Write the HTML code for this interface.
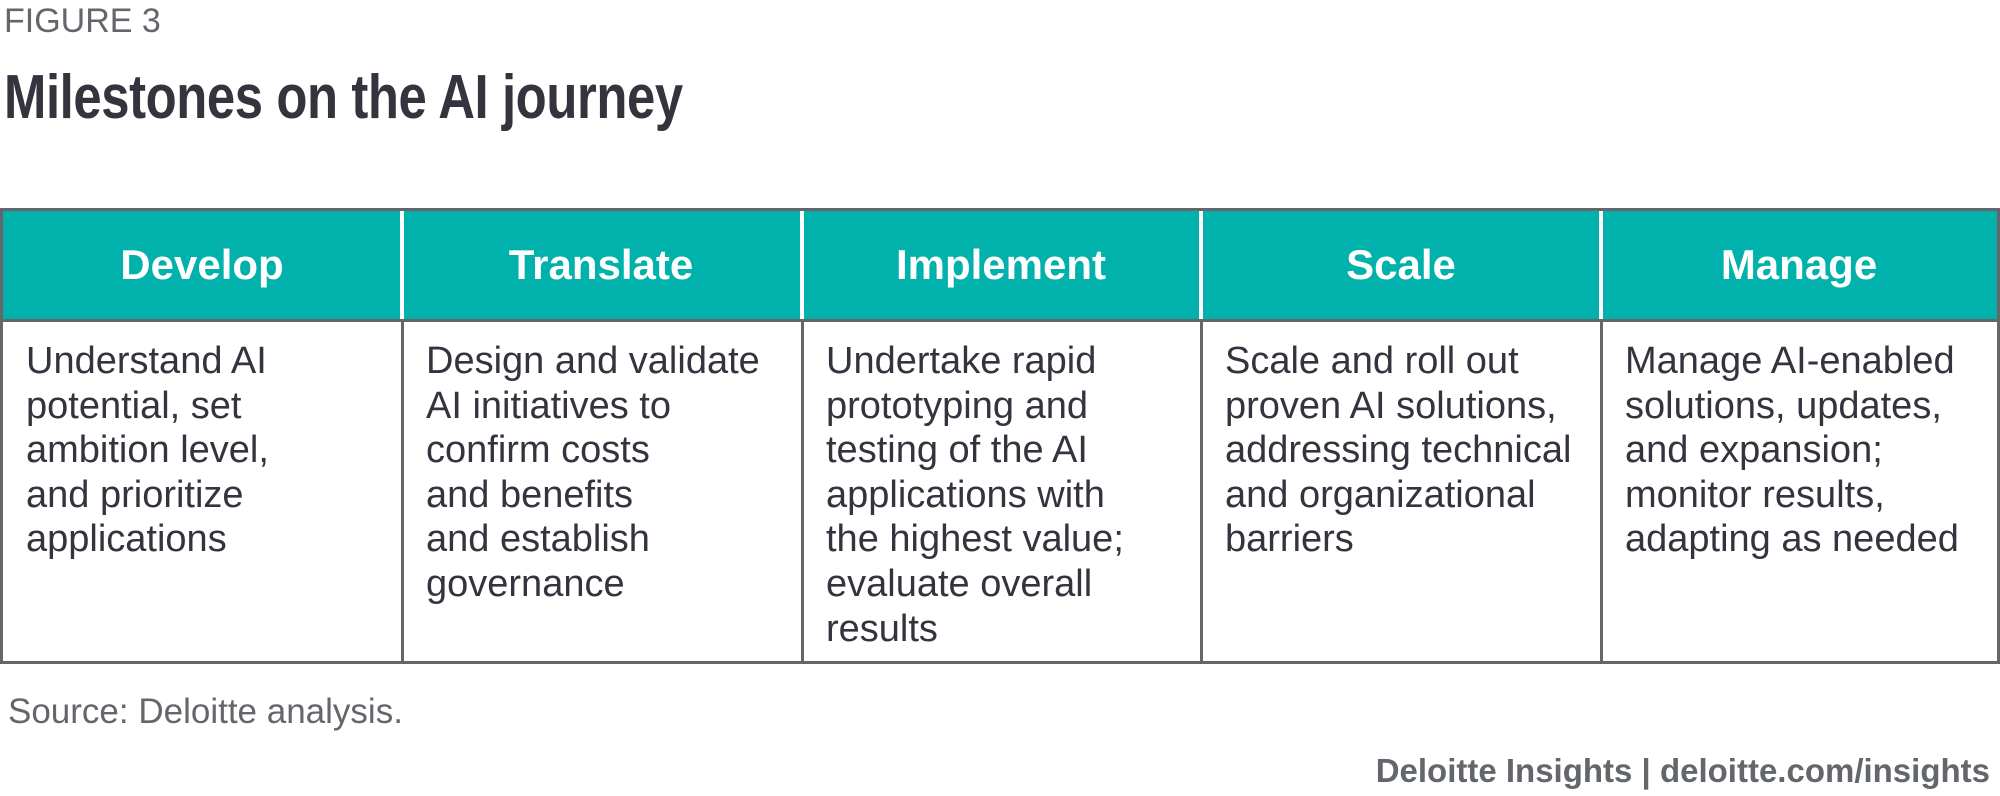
<!DOCTYPE html>
<html><head><meta charset="utf-8"><style>
body{margin:0;width:2000px;height:796px;background:#fff;position:relative;overflow:hidden;font-family:"Liberation Sans",sans-serif;}
.abs{position:absolute;white-space:nowrap;}
#fig{left:4px;top:2px;font-size:34px;color:#63666a;}
#title{left:4px;top:62px;font-size:62px;font-weight:bold;color:#33343e;transform:scaleX(0.82);transform-origin:left top;letter-spacing:-0.5px;}
#tbl{position:absolute;left:0;top:208px;width:1994px;height:450px;border:3px solid #63666a;}
.hd{position:absolute;top:0;height:108px;background:#00b2ab;color:#fff;font-weight:bold;font-size:42px;display:flex;align-items:center;justify-content:center;}
.hline{position:absolute;left:0;top:108px;width:1994px;height:3px;background:#63666a;}
.vd{position:absolute;top:0;width:4px;height:108px;background:#fff;}
.vb{position:absolute;top:108px;width:3px;height:342px;background:#63666a;}
.bd{position:absolute;top:128px;font-size:38px;line-height:44.6px;color:#33343e;white-space:nowrap;}
#src{left:8px;top:692px;font-size:35px;color:#63666a;}
#foot{right:10px;top:752px;font-size:33px;color:#63666a;font-weight:bold;}
</style></head><body>
<div class="abs" id="fig">FIGURE 3</div>
<div class="abs" id="title">Milestones on the AI journey</div>
<div id="tbl">
<div class="hd" style="left:0;width:398px">Develop</div>
<div class="hd" style="left:398px;width:400px">Translate</div>
<div class="hd" style="left:798px;width:400px">Implement</div>
<div class="hd" style="left:1198px;width:400px">Scale</div>
<div class="hd" style="left:1598px;width:396px">Manage</div>
<div class="vd" style="left:397px"></div><div class="vd" style="left:797px"></div><div class="vd" style="left:1196px"></div><div class="vd" style="left:1596px"></div>
<div class="hline"></div>
<div class="vb" style="left:398px"></div><div class="vb" style="left:798px"></div><div class="vb" style="left:1197px"></div><div class="vb" style="left:1597px"></div>
<div class="bd" style="left:23px">Understand AI<br>potential, set<br>ambition level,<br>and prioritize<br>applications</div>
<div class="bd" style="left:423px">Design and validate<br>AI initiatives to<br>confirm costs<br>and benefits<br>and establish<br>governance</div>
<div class="bd" style="left:823px">Undertake rapid<br>prototyping and<br>testing of the AI<br>applications with<br>the highest value;<br>evaluate overall<br>results</div>
<div class="bd" style="left:1222px">Scale and roll out<br>proven AI solutions,<br>addressing technical<br>and organizational<br>barriers</div>
<div class="bd" style="left:1622px">Manage AI-enabled<br>solutions, updates,<br>and expansion;<br>monitor results,<br>adapting as needed</div>
</div>
<div class="abs" id="src">Source: Deloitte analysis.</div>
<div class="abs" id="foot">Deloitte Insights | deloitte.com/insights</div>
</body></html>
